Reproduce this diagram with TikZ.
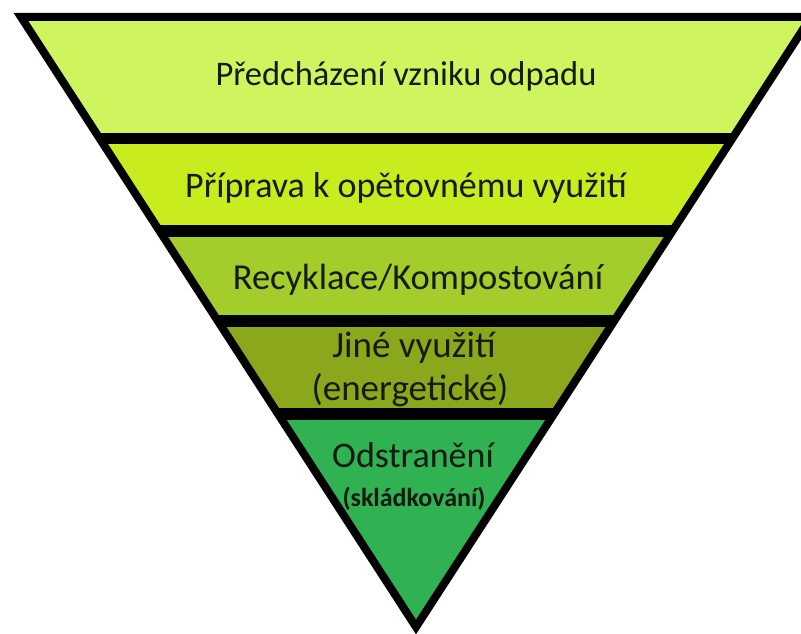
\documentclass[tikz,border=0pt]{standalone}
\usepackage{fontspec}
\setmainfont{Carlito}
\definecolor{bandA}{HTML}{CEF55E}
\definecolor{bandB}{HTML}{C8EC1E}
\definecolor{bandC}{HTML}{A2CD2A}
\definecolor{bandD}{HTML}{8BA81C}
\definecolor{bandE}{HTML}{30B152}
\definecolor{txt}{HTML}{161A10}
\tikzset{
  lbl/.style={text=txt, inner sep=0pt, anchor=center},
  bar/.style={fill=black},
}
\begin{document}
\begin{tikzpicture}[x=1pt,y=-1pt]
\useasboundingbox (0,0) rectangle (801,634);
\clip (0,0) rectangle (801,634);
\coordinate (TL) at (21,17);
\coordinate (TR) at (811,17);
\coordinate (AP) at (416,627);
\begin{scope}
  \clip (TL) -- (TR) -- (AP) -- cycle;
  \fill[bandA] (0,0) rectangle (820,138);
  \fill[bandB] (0,138) rectangle (820,230);
  \fill[bandC] (0,230) rectangle (820,321);
  \fill[bandD] (0,321) rectangle (820,414);
  \fill[bandE] (0,414) rectangle (820,640);
  \fill[bar] (0,132.5) rectangle (820,144);
  \fill[bar] (0,224.5) rectangle (820,236.5);
  \fill[bar] (0,315) rectangle (820,326.5);
  \fill[bar] (0,408) rectangle (820,420);
\end{scope}
\draw[line width=8pt, line join=miter, miter limit=20] (TL) -- (TR) -- (AP) -- cycle;
\node[lbl, font=\fontsize{34.5}{38}\selectfont] (l1) at (406,76) {Předcházení vzniku odpadu};
\node[lbl, font=\fontsize{36}{40}\selectfont] (l2) at (406,188) {Příprava k opětovnému využití};
\node[lbl, font=\fontsize{36.5}{40}\selectfont] (l3) at (418,280) {Recyklace/Kompostování};
\node[lbl, font=\fontsize{37}{40}\selectfont] (l4a) at (414,348) {Jiné využití};
\node[lbl, font=\fontsize{37}{40}\selectfont] (l4b) at (410,390) {(energetické)};
\node[lbl, font=\fontsize{36}{40}\selectfont] (l5a) at (413,455) {Odstranění};
\node[lbl, font=\bfseries\fontsize{26}{30}\selectfont] (l5b) at (414,499) {(skládkování)};
\end{tikzpicture}
\end{document}
